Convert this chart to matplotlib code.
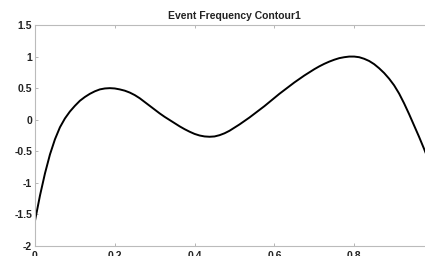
import numpy as np
import matplotlib.pyplot as plt

plt.rcParams['font.family'] = ['Liberation Sans', 'DejaVu Sans']

# curve (x step 0.0125)
x_vals = [i * 0.0125 for i in range(81)]
y_vals = [-1.6, -1.2, -0.85, -0.55, -0.31, -0.12, 0.02, 0.13, 0.22, 0.3,
          0.36, 0.41, 0.45, 0.48, 0.495, 0.5, 0.495, 0.48, 0.46, 0.43,
          0.39, 0.34, 0.28, 0.22, 0.16, 0.1, 0.045, -0.005, -0.055, -0.105,
          -0.15, -0.19, -0.225, -0.25, -0.265, -0.27, -0.265, -0.245, -0.215, -0.175,
          -0.125, -0.075, -0.02, 0.035, 0.095, 0.155, 0.215, 0.28, 0.345, 0.41,
          0.47, 0.53, 0.59, 0.645, 0.7, 0.75, 0.8, 0.845, 0.885, 0.92,
          0.95, 0.975, 0.99, 1.0, 1.0, 0.99, 0.965, 0.93, 0.88, 0.815,
          0.74, 0.65, 0.545, 0.415, 0.26, 0.09, -0.09, -0.27, -0.46, -0.66,
          -0.87]

x_ticks = [0, 0.2, 0.4, 0.6, 0.8]
x_ticklabels = ['0', '0.2', '0.4', '0.6', '0.8']
y_ticks = [-2, -1.5, -1, -0.5, 0, 0.5, 1, 1.5]
y_ticklabels = ['-2', '-1.5', '-1', '-0.5', '0', '0.5', '1', '1.5']

fig = plt.figure(figsize=(4.25, 2.56), dpi=100)
ax = fig.add_axes([35 / 425, 10 / 256, 399 / 425, 221 / 256])

ax.plot(x_vals, y_vals, color='black', linewidth=1.4)

ax.set_xlim(0, 1)
ax.set_ylim(-2, 1.5)
ax.set_xticks(x_ticks)
ax.set_xticklabels(x_ticklabels)
ax.set_yticks(y_ticks)
ax.set_yticklabels(y_ticklabels)

for s in ax.spines.values():
    s.set_color('#bbbbbb')
    s.set_linewidth(0.8)
ax.tick_params(direction='in', length=2.5, width=0.6, color='#aaaaaa',
               labelsize=7.5, top=True, right=True, labelcolor='#222222')
ax.tick_params(axis='x', pad=3.5)
ax.tick_params(axis='y', pad=2)
for lbl in ax.get_xticklabels() + ax.get_yticklabels():
    lbl.set_fontweight('bold')

ax.set_title('Event Frequency Contour1', fontsize=7.5, fontweight='bold',
             pad=4, color='#222222')

fig.savefig('out.png', dpi=100)
